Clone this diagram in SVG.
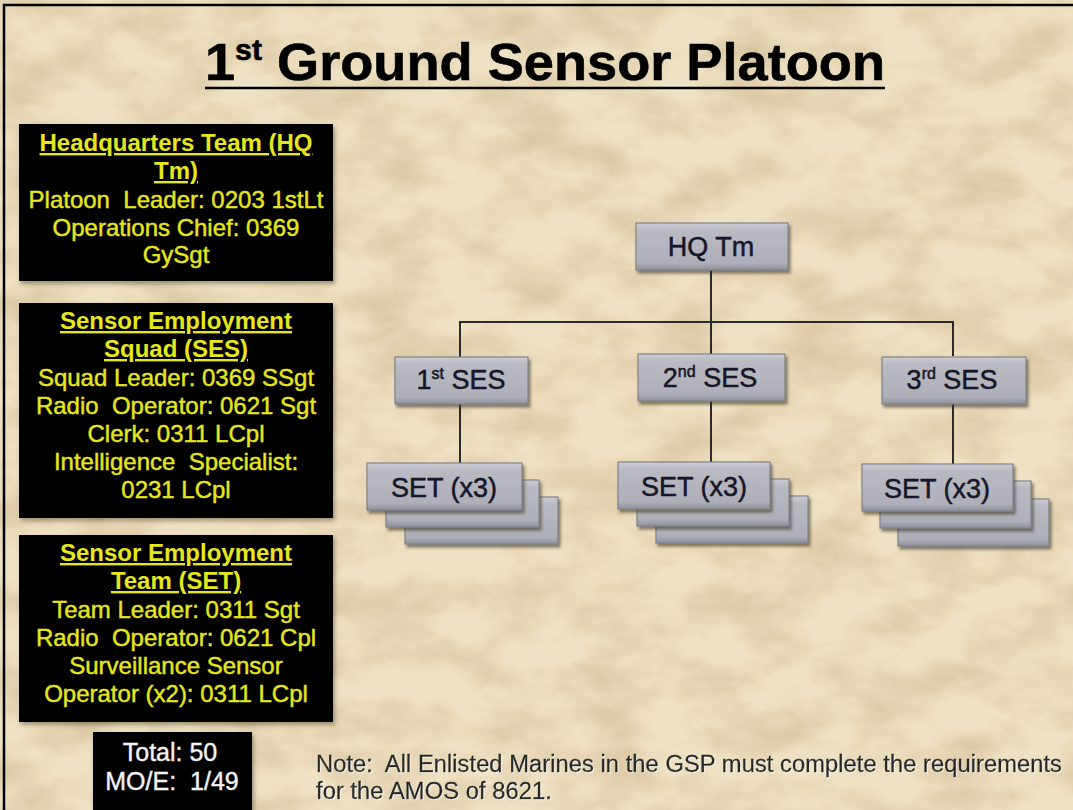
<svg xmlns="http://www.w3.org/2000/svg" width="1073" height="810" viewBox="0 0 1073 810">
<defs>
<filter id="paper" x="0" y="0" width="100%" height="100%">
<feTurbulence type="fractalNoise" baseFrequency="0.014 0.024" numOctaves="5" seed="7" result="n"/>
<feColorMatrix in="n" type="matrix" values="0 0 0 0 0.60  0 0 0 0 0.46  0 0 0 0 0.26  1.2 0 0 0 -0.44"/>
</filter>
<filter id="sh" x="-10%" y="-10%" width="125%" height="135%">
<feDropShadow dx="2" dy="3" stdDeviation="1.6" flood-color="#3a3020" flood-opacity="0.6"/>
</filter>
<filter id="bsh" x="-5%" y="-5%" width="112%" height="115%">
<feDropShadow dx="2" dy="3" stdDeviation="2" flood-color="#5a4a30" flood-opacity="0.5"/>
</filter>
<filter id="tsh" x="-2%" y="-20%" width="104%" height="150%">
<feDropShadow dx="1" dy="1" stdDeviation="0.6" flood-color="#ffffff" flood-opacity="0.6"/>
</filter>
<linearGradient id="g" x1="0" y1="0" x2="0" y2="1">
<stop offset="0" stop-color="#cdced4"/>
<stop offset="0.15" stop-color="#b9bac2"/>
<stop offset="0.85" stop-color="#aeafb8"/>
<stop offset="1" stop-color="#8f919a"/>
</linearGradient>
</defs>
<style>
.node rect{fill:url(#g);stroke:#80828b;stroke-width:1.2;filter:url(#sh)}
.nt{font-family:"Liberation Sans",Arial,sans-serif;font-size:27px;fill:#16162a;stroke:#16162a;stroke-width:0.5;text-anchor:middle}
.blk{fill:#050505;filter:url(#bsh)}
.hd{font-family:"Liberation Sans",Arial,sans-serif;font-size:24px;font-weight:bold;fill:#e6e61e;text-anchor:middle;text-decoration:underline}
.bd{font-family:"Liberation Sans",Arial,sans-serif;font-size:24px;fill:#e6e61e;stroke:#e6e61e;stroke-width:0.45;text-anchor:middle}
.wt{font-family:"Liberation Sans",Arial,sans-serif;font-size:25px;fill:#f2f2f2;stroke:#f2f2f2;stroke-width:0.4;text-anchor:middle}
.note{font-family:"Liberation Sans",Arial,sans-serif;font-size:23px;fill:#262626;stroke:#262626;stroke-width:0.3;filter:url(#tsh)}
.cn{stroke:#2a2a2a;stroke-width:2;fill:none}
</style>

<rect x="0" y="0" width="1073" height="810" fill="#efe1c3"/>
<rect x="0" y="0" width="1073" height="810" filter="url(#paper)"/>
<rect x="4" y="5" width="1080" height="820" fill="none" stroke="#000" stroke-width="2.5"/>

<g id="title">
<text x="205" y="80" font-family="Liberation Sans,Arial,sans-serif" font-size="52" font-weight="bold" fill="#000" stroke="#000" stroke-width="0.6" textLength="680" lengthAdjust="spacingAndGlyphs">1<tspan font-size="29" dy="-20">st</tspan><tspan dy="20"> Ground Sensor Platoon</tspan></text>
<line x1="205" y1="88" x2="885" y2="88" stroke="#000" stroke-width="2.5"/>
</g>

<g id="hq-team-info">
<rect class="blk" x="19" y="124" width="314" height="157"/>
<text class="hd" x="176" y="151">Headquarters Team (HQ</text>
<text class="hd" x="176" y="179">Tm)</text>
<text class="bd" x="176" y="208">Platoon&#160; Leader: 0203 1stLt</text>
<text class="bd" x="176" y="236">Operations Chief: 0369</text>
<text class="bd" x="176" y="263">GySgt</text>
</g>

<g id="ses-info">
<rect class="blk" x="19" y="303" width="314" height="215"/>
<text class="hd" x="176" y="329">Sensor Employment</text>
<text class="hd" x="176" y="357">Squad (SES)</text>
<text class="bd" x="176" y="386">Squad Leader: 0369 SSgt</text>
<text class="bd" x="176" y="414">Radio&#160; Operator: 0621 Sgt</text>
<text class="bd" x="176" y="442">Clerk: 0311 LCpl</text>
<text class="bd" x="176" y="470">Intelligence&#160; Specialist:</text>
<text class="bd" x="176" y="498">0231 LCpl</text>
</g>

<g id="set-info">
<rect class="blk" x="19" y="535" width="314" height="187"/>
<text class="hd" x="176" y="561">Sensor Employment</text>
<text class="hd" x="176" y="589">Team (SET)</text>
<text class="bd" x="176" y="618">Team Leader: 0311 Sgt</text>
<text class="bd" x="176" y="646">Radio&#160; Operator: 0621 Cpl</text>
<text class="bd" x="176" y="674">Surveillance Sensor</text>
<text class="bd" x="176" y="702">Operator (x2): 0311 LCpl</text>
</g>

<g id="total">
<rect class="blk" x="93" y="732" width="159" height="90"/>
<text class="wt" x="170" y="761">Total: 50</text>
<text class="wt" x="172" y="790">MO/E:&#160; 1/49</text>
</g>

<g id="note">
<text class="note" x="316" y="772" textLength="746" lengthAdjust="spacingAndGlyphs">Note:&#160; All Enlisted Marines in the GSP must complete the requirements</text>
<text class="note" x="316" y="799" textLength="236" lengthAdjust="spacingAndGlyphs">for the AMOS of 8621.</text>
</g>

<g id="connectors">
<line class="cn" x1="711" y1="270" x2="711" y2="354"/>
<polyline class="cn" points="460,357 460,322 953,322 953,356"/>
<line class="cn" x1="460" y1="404" x2="460" y2="463"/>
<line class="cn" x1="711" y1="401" x2="711" y2="462"/>
<line class="cn" x1="953" y1="404" x2="953" y2="464"/>
</g>

<g id="hq-tm" class="node">
<rect x="636" y="223" width="152" height="47"/>
<text class="nt" x="711" y="256">HQ Tm</text>
</g>

<g id="ses1" class="node">
<rect x="395" y="357" width="133" height="47"/>
<text class="nt" x="461" y="389">1<tspan font-size="16" dy="-10">st</tspan><tspan dy="10"> SES</tspan></text>
</g>
<g id="ses2" class="node">
<rect x="638" y="354" width="147" height="47"/>
<text class="nt" x="710" y="387">2<tspan font-size="16" dy="-10">nd</tspan><tspan dy="10"> SES</tspan></text>
</g>
<g id="ses3" class="node">
<rect x="882" y="357" width="144" height="47"/>
<text class="nt" x="952" y="389">3<tspan font-size="16" dy="-10">rd</tspan><tspan dy="10"> SES</tspan></text>
</g>

<g id="set1" class="node">
<rect x="405" y="497" width="153" height="47"/>
<rect x="386" y="480" width="153" height="47"/>
<rect x="367" y="463" width="155" height="47"/>
<text class="nt" x="444" y="497">SET (x3)</text>
</g>
<g id="set2" class="node">
<rect x="656" y="496" width="152" height="47"/>
<rect x="637" y="479" width="152" height="47"/>
<rect x="618" y="462" width="152" height="47"/>
<text class="nt" x="694" y="496">SET (x3)</text>
</g>
<g id="set3" class="node">
<rect x="898" y="499" width="151" height="47"/>
<rect x="880" y="481" width="151" height="47"/>
<rect x="862" y="464" width="151" height="47"/>
<text class="nt" x="937" y="498">SET (x3)</text>
</g>
</svg>
